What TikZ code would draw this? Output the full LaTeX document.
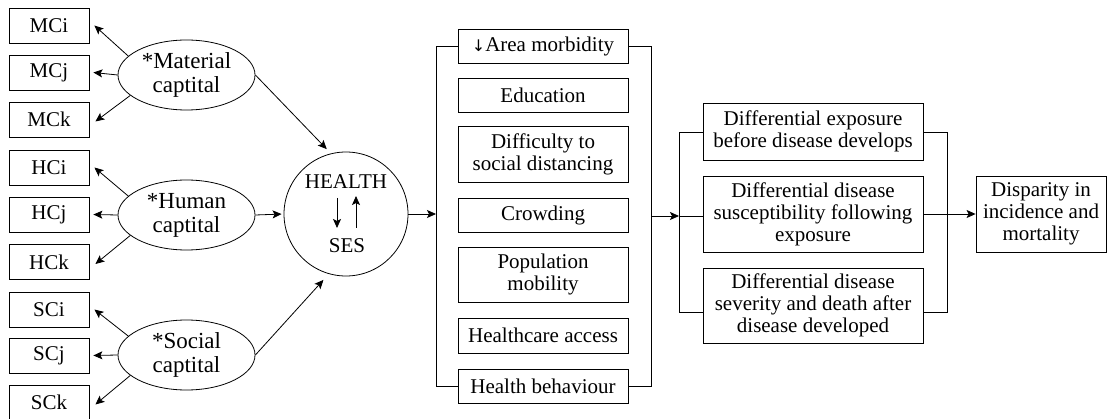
\documentclass[tikz,border=0pt]{standalone}
\usepackage{fontspec}
\setmainfont{Liberation Serif}
\newfontfamily\tnr{Liberation Serif}
\newfontfamily\dejavu{DejaVu Sans}
\usetikzlibrary{arrows.meta,calc,shapes.geometric}
\tikzset{
  every node/.style={font=\tnr\fontsize{21}{22}\selectfont, inner sep=1pt},
  sbox/.style={draw, line width=0.8pt, minimum width=80pt, minimum height=35pt},
  mbox/.style={draw, line width=0.8pt, minimum width=170pt, align=center},
  rbox/.style={draw, line width=0.8pt, minimum width=220pt, align=center},
  capell/.style={draw, ellipse, line width=0.8pt, minimum width=137pt, minimum height=70pt, align=center, inner sep=0pt, font=\tnr\fontsize{23}{24}\selectfont},
  conn/.style={line width=0.8pt},
  arr/.style={line width=0.8pt, -{Stealth[length=9pt,width=8pt,inset=2pt]}},
}
\begin{document}
\begin{tikzpicture}[x=1pt,y=-1pt]
\useasboundingbox (0,0) rectangle (1107,419);
% left boxes
\node[sbox] (mci) at (49,25.5) {MCi};
\node[sbox] (mcj) at (49,72.5) {MCj};
\node[sbox] (mck) at (49,119.5) {MCk};
\node[sbox] (hci) at (49,167.5) {HCi};
\node[sbox] (hcj) at (49,214.5) {HCj};
\node[sbox] (hck) at (49,262) {HCk};
\node[sbox] (sci) at (49,309.5) {SCi};
\node[sbox] (scj) at (49,355.5) {SCj};
\node[sbox] (sck) at (49,402.5) {SCk};
% ellipses
\node[capell] (mce) at (186.5,75) {*Material\\captital};
\node[capell] (hce) at (186.5,215) {*Human\\captital};
\node[capell] (sce) at (186.5,355) {*Social\\captital};
\draw[arr] (mce.162) -- ($(mci.east)+(5,0)$);
\draw[arr] (mce.west) -- ($(mcj.east)+(4,0)$);
\draw[arr] (mce.200) -- ($(mck.east)+(6,2)$);
\draw[arr] (hce.162) -- ($(hci.east)+(5,0)$);
\draw[arr] (hce.west) -- ($(hcj.east)+(4,0)$);
\draw[arr] (hce.200) -- ($(hck.east)+(6,2)$);
\draw[arr] (sce.162) -- ($(sci.east)+(5,0)$);
\draw[arr] (sce.west) -- ($(scj.east)+(4,0)$);
\draw[arr] (sce.200) -- ($(sck.east)+(6,2)$);
% health circle
\node[draw, circle, line width=0.8pt, minimum size=124pt, inner sep=0pt] (hs) at (346,214) {};
\node (health) at (346,182) {HEALTH};
\node (ses) at (347,246) {SES};
\coordinate (dn1) at ($(hs.center)+(-9,-16)$);
\coordinate (dn2) at ($(hs.center)+(-9,14)$);
\coordinate (up1) at ($(hs.center)+(10,14)$);
\coordinate (up2) at ($(hs.center)+(10,-18)$);
\draw[arr] (dn1) -- (dn2);
\draw[arr] (up1) -- (up2);
\draw[arr, shorten >=6pt] (mce.east) -- (hs.104);
\draw[arr, shorten >=2pt] (hce.east) -- (hs.west);
\draw[arr, shorten >=8pt] (sce.east) -- (hs.254);
% middle boxes
\node[mbox, minimum height=34pt] (area) at (543,46) {{\dejavu\fontsize{16}{16}\selectfont ↓}Area morbidity};
\node[mbox, minimum height=34pt] (edu) at (543,95) {Education};
\node[mbox, minimum height=56pt] (diff) at (543,154) {Difficulty to\\social distancing};
\node[mbox, minimum height=34pt] (crowd) at (543,215) {Crowding};
\node[mbox, minimum height=55pt] (pop) at (543,274.5) {Population\\mobility};
\node[mbox, minimum height=35pt] (hca) at (543,335.5) {Healthcare access};
\node[mbox, minimum height=34pt] (hb) at (543,386) {Health behaviour};
\coordinate (b1t) at (436,46);
\coordinate (b1m) at (436,214);
\coordinate (b1b) at (436,386);
\draw[conn] (area.west) -- (b1t) -- (b1b) -- (hb.west);
\draw[arr] (hs.east) -- (b1m);
\coordinate (b2t) at (651,46);
\coordinate (b2m) at (651,216);
\coordinate (b2b) at (651,386);
\draw[conn] (area.east) -- (b2t) -- (b2b) -- (hb.east);
% right boxes
\node[rbox, minimum height=57pt] (r1) at (813,131.5) {Differential exposure\\before disease develops};
\node[rbox, minimum height=76pt] (r2) at (813,214) {Differential disease\\susceptibility following\\exposure};
\node[rbox, minimum height=75pt] (r3) at (813,305.5) {Differential disease\\severity and death after\\disease developed};
\coordinate (b3t) at (679,132);
\coordinate (b3m) at (679,216);
\coordinate (b3b) at (679,312);
\draw[arr] (b2m) -- (b3m);
\draw[conn] (b3t -| r1.west) -- (b3t) -- (b3b) -- (b3b -| r3.west);
\draw[conn] (b3m) -- (b3m -| r2.west);
\coordinate (b4t) at (947,132);
\coordinate (b4m) at (947,214);
\coordinate (b4b) at (947,312);
\draw[conn] (b4t -| r1.east) -- (b4t) -- (b4b) -- (b4b -| r3.east);
\draw[conn] (b4m -| r2.east) -- (b4m);
\node[draw, line width=0.8pt, minimum width=130pt, minimum height=76pt, align=center] (disp) at (1041,214) {Disparity in\\incidence and\\mortality};
\draw[arr] (b4m) -- (disp.west);
\end{tikzpicture}
\end{document}
